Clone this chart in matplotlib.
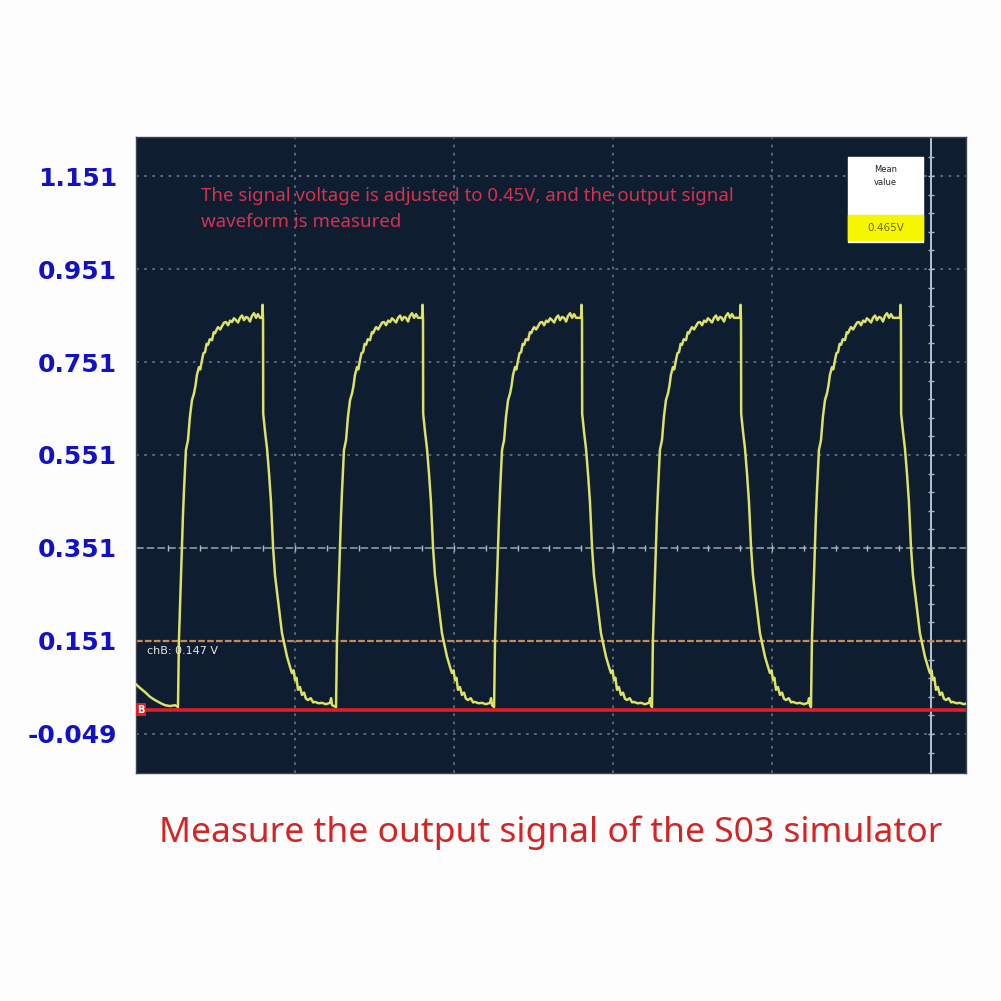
import numpy as np
import matplotlib
matplotlib.use('Agg')
from matplotlib import pyplot as plt

# y axis labels (volts) and grid levels
y_ticks = [1.151, 0.951, 0.751, 0.551, 0.351, 0.151, -0.049]
y_labels = ['1.151', '0.951', '0.751', '0.551', '0.351', '0.151', '-0.049']
x_divs = [1, 2, 3, 4, 5]

# trace before the first pulse (time in divisions, volts)
lead_t = [-0.01, 0.025, 0.057, 0.088, 0.119, 0.151, 0.182, 0.214, 0.245]
lead_v = [0.061, 0.050, 0.041, 0.031, 0.024, 0.018, 0.013, 0.011, 0.013]

# rising part of one pulse, offset from its rising edge
rise_dt = [0.0, 0.006, 0.019, 0.031, 0.038, 0.050, 0.063, 0.075, 0.088, 0.101,
           0.110, 0.119, 0.132, 0.140, 0.151, 0.160, 0.170, 0.180, 0.189, 0.200,
           0.214, 0.225, 0.233, 0.245, 0.252, 0.265, 0.277, 0.290, 0.302, 0.315,
           0.328, 0.340, 0.352, 0.365, 0.378, 0.390, 0.403, 0.415, 0.428, 0.440,
           0.453, 0.465, 0.478, 0.491, 0.503, 0.516]
rise_v = [0.009, 0.153, 0.289, 0.418, 0.476, 0.562, 0.583, 0.633, 0.669, 0.684,
          0.700, 0.723, 0.740, 0.735, 0.755, 0.770, 0.772, 0.790, 0.788, 0.800,
          0.798, 0.815, 0.813, 0.822, 0.826, 0.821, 0.828, 0.836, 0.837, 0.830,
          0.840, 0.837, 0.845, 0.841, 0.836, 0.846, 0.851, 0.841, 0.848, 0.846,
          0.838, 0.850, 0.856, 0.846, 0.854, 0.846]

# falling part of one pulse, offset from its falling edge
fall_dt = [-0.006, -0.003, 0.0, 0.001, 0.013, 0.025, 0.038, 0.050, 0.063, 0.075,
           0.094, 0.119, 0.151, 0.170, 0.182, 0.192, 0.201, 0.210, 0.220, 0.232,
           0.245, 0.258, 0.270, 0.283, 0.300, 0.315, 0.327, 0.350, 0.371, 0.396,
           0.421, 0.428, 0.434]
fall_v = [0.846, 0.874, 0.841, 0.640, 0.600, 0.565, 0.510, 0.450, 0.353, 0.293,
          0.239, 0.168, 0.117, 0.095, 0.082, 0.088, 0.067, 0.072, 0.046, 0.052,
          0.035, 0.040, 0.027, 0.024, 0.028, 0.019, 0.020, 0.017, 0.018, 0.015,
          0.018, 0.028, 0.013]

# edge times of the five pulses (divisions)
rise_times = [0.264, 1.258, 2.252, 3.245, 4.245]
fall_times = [0.799, 1.805, 2.805, 3.805, 4.811]

trig_level = 0.151     # chB cursor
ref_level = 0.003      # channel B zero marker
mean_text = '0.465V'

t = list(lead_t)
v = list(lead_v)
for r, f in zip(rise_times, fall_times):
    t += [r + d for d in rise_dt]
    v += rise_v
    t += [f + d for d in fall_dt]
    v += fall_v

fig = plt.figure(figsize=(10.01, 10.01), dpi=100)
fig.patch.set_facecolor('#fdfdfd')
ax = fig.add_axes([136 / 1001, 1 - 773 / 1001, 830 / 1001, 636 / 1001])
ax.set_facecolor('#0f1d31')
ax.set_xlim(0, 5.22)
ax.set_ylim(-0.1329, 1.2349)

grid_kw = dict(color='#5c6d88', lw=1.3, ls=(0, (1.5, 3)), zorder=1)
for yv in y_ticks:
    if yv in (0.351, 0.151):
        continue
    ax.axhline(yv, **grid_kw)
for xv in x_divs[:-1]:
    ax.axvline(xv, **grid_kw)

# centre cross lines with small division marks
ax.axhline(0.351, color='#9aa5b6', lw=1.1, ls=(0, (5, 2)), zorder=1)
ax.axvline(x_divs[-1], color='#b8c2d2', lw=1.4, zorder=1)
marks = np.arange(0.2, 5.2, 0.2)
ax.plot(marks, np.full_like(marks, 0.351), ls='none', marker='|', ms=4,
        color='#b0b9c6', mew=1, zorder=1)
vmarks = np.arange(-0.089, 1.2, 0.04)
ax.plot(np.full_like(vmarks, x_divs[-1]), vmarks, ls='none', marker='_', ms=4,
        color='#b0b9c6', mew=1, zorder=1)

ax.axhline(trig_level, color='#c98b52', lw=1.6, ls=(0, (3, 1)), zorder=2)
ax.axhline(ref_level, color='#dd1f2b', lw=2.6, zorder=2)

ax.plot(t, v, color='#d5dc74', lw=1.8, zorder=3)
ax.plot(t, v, color='#f2f236', lw=0.6, alpha=0.6, zorder=3)

ax.text(0.008, ref_level, 'B', color='white', fontsize=7, fontweight='bold',
        va='center', ha='left', zorder=5,
        bbox=dict(boxstyle='square,pad=0.15', fc='#dd1f2b', ec='none'))
ax.text(0.07, trig_level - 0.022, 'chB: 0.147 V', color='#e6e6e6', fontsize=8,
        va='center', ha='left', zorder=5)

ax.text(0.41, 1.128, 'The signal voltage is adjusted to 0.45V, and the output signal\nwaveform is measured',
        color='#d2334e', fontsize=13.4, family=['Noto Sans'],
        va='top', ha='left', linespacing=1.62, zorder=5)

# mean value box
bx0, bx1 = (848 - 136) / 159, (923 - 136) / 159
ax.fill_between([bx0, bx1], 0.151 + (641 - 242) / 465, 0.151 + (641 - 157) / 465,
                color='white', zorder=4)
ax.fill_between([bx0, bx1], 0.151 + (641 - 240) / 465, 0.151 + (641 - 215) / 465,
                color='#f6f600', zorder=4)
bxc = (bx0 + bx1) / 2
ax.text(bxc, 0.151 + (641 - 176) / 465, 'Mean\nvalue', fontsize=6, color='#222222',
        ha='center', va='center', linespacing=1.6, zorder=5)
ax.text(bxc, 0.151 + (641 - 228) / 465, mean_text, fontsize=7.5, color='#6b6a10',
        ha='center', va='center', zorder=5)

ax.set_xticks([])
ax.set_yticks(y_ticks)
ax.set_yticklabels(y_labels, color='#1212c4', fontsize=18, fontweight='bold')
ax.tick_params(axis='y', length=0, pad=13.5)
for s in ax.spines.values():
    s.set_color('#3a4658')
    s.set_linewidth(1)

fig.text(0.55, 1 - 833 / 1001, 'Measure the output signal of the S03 simulator',
         color='#d42424', fontsize=25.5, family=['Noto Sans'],
         ha='center', va='center')

fig.savefig('out.png', dpi=100, facecolor=fig.get_facecolor())
